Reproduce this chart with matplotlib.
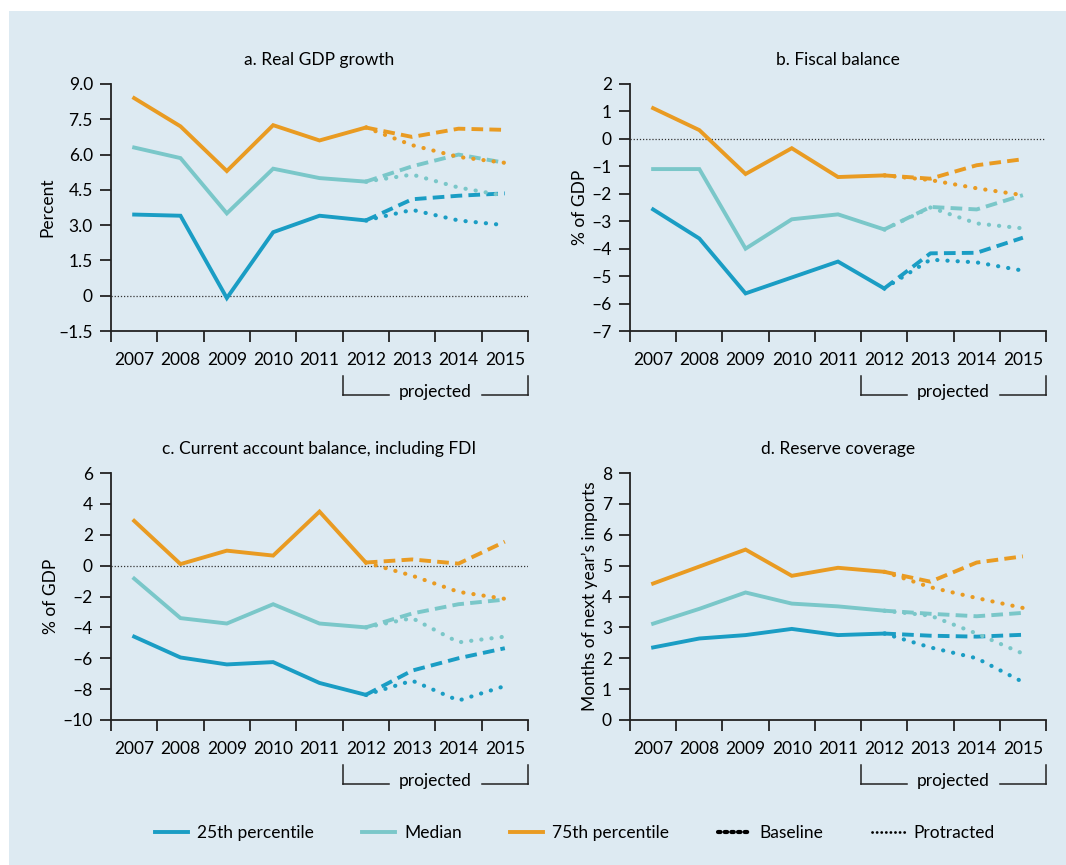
import matplotlib
matplotlib.use("Agg")
import matplotlib.pyplot as plt
from matplotlib.patches import Rectangle
from matplotlib.lines import Line2D
from matplotlib.transforms import blended_transform_factory

plt.rcParams['font.family'] = ['Lato', 'DejaVu Sans']

years = ["2007", "2008", "2009", "2010", "2011", "2012", "2013", "2014", "2015"]
hist_idx = [0, 1, 2, 3, 4, 5]
proj_idx = [5, 6, 7, 8]

# Panel a: Real GDP growth (percent)
gdp_p25 = [3.45, 3.4, -0.1, 2.7, 3.4, 3.2]
gdp_med = [6.3, 5.85, 3.5, 5.4, 5.0, 4.85]
gdp_p75 = [8.4, 7.2, 5.3, 7.25, 6.6, 7.15]
gdp_p25_base = [3.2, 4.1, 4.25, 4.35]
gdp_med_base = [4.85, 5.5, 6.0, 5.65]
gdp_p75_base = [7.15, 6.75, 7.1, 7.05]
gdp_p25_prot = [3.2, 3.65, 3.2, 3.0]
gdp_med_prot = [4.85, 5.15, 4.6, 4.25]
gdp_p75_prot = [7.15, 6.4, 5.9, 5.65]

# Panel b: Fiscal balance (% of GDP)
fis_p25 = [-2.57, -3.63, -5.63, -5.05, -4.47, -5.45]
fis_med = [-1.1, -1.1, -4.0, -2.93, -2.75, -3.3]
fis_p75 = [1.12, 0.32, -1.28, -0.34, -1.39, -1.33]
fis_p25_base = [-5.45, -4.17, -4.15, -3.6]
fis_med_base = [-3.3, -2.48, -2.57, -2.05]
fis_p75_base = [-1.33, -1.45, -0.96, -0.74]
fis_p25_prot = [-5.45, -4.4, -4.5, -4.8]
fis_med_prot = [-3.3, -2.5, -3.08, -3.26]
fis_p75_prot = [-1.33, -1.5, -1.8, -2.05]

# Panel c: Current account balance, including FDI (% of GDP)
ca_p25 = [-4.6, -5.95, -6.4, -6.25, -7.6, -8.37]
ca_med = [-0.84, -3.4, -3.75, -2.5, -3.75, -4.0]
ca_p75 = [2.9, 0.1, 0.97, 0.65, 3.5, 0.2]
ca_p25_base = [-8.37, -6.8, -6.0, -5.35]
ca_med_base = [-4.0, -3.1, -2.5, -2.2]
ca_p75_base = [0.2, 0.4, 0.13, 1.55]
ca_p25_prot = [-8.37, -7.45, -8.74, -7.8]
ca_med_prot = [-4.0, -3.4, -4.97, -4.6]
ca_p75_prot = [0.2, -0.65, -1.7, -2.15]

# Panel d: Reserve coverage (months of next year's imports)
res_p25 = [2.35, 2.64, 2.75, 2.95, 2.75, 2.8]
res_med = [3.12, 3.6, 4.13, 3.77, 3.68, 3.54]
res_p75 = [4.42, 4.97, 5.52, 4.67, 4.93, 4.8]
res_p25_base = [2.8, 2.73, 2.7, 2.76]
res_med_base = [3.54, 3.44, 3.36, 3.47]
res_p75_base = [4.8, 4.48, 5.1, 5.3]
res_p25_prot = [2.8, 2.35, 2.0, 1.23]
res_med_prot = [3.54, 3.38, 2.8, 2.15]
res_p75_prot = [4.8, 4.3, 3.95, 3.63]

C25 = '#1a9dc4'
CMED = '#7ac7c9'
C75 = '#e99b22'
BG = '#ddeaf2'

panels = [
    dict(title="a. Real GDP growth", ylabel="Percent", ylim=(-1.5, 9.0),
         yticks=[-1.5, 0, 1.5, 3.0, 4.5, 6.0, 7.5, 9.0],
         yticklabels=["\u20131.5", "0", "1.5", "3.0", "4.5", "6.0", "7.5", "9.0"],
         zero=True,
         hist=[gdp_p25, gdp_med, gdp_p75], base=[gdp_p25_base, gdp_med_base, gdp_p75_base],
         prot=[gdp_p25_prot, gdp_med_prot, gdp_p75_prot]),
    dict(title="b. Fiscal balance", ylabel="% of GDP", ylim=(-7, 2),
         yticks=list(range(-7, 3)),
         yticklabels=[("\u2013%d" % -v) if v < 0 else str(v) for v in range(-7, 3)],
         zero=True,
         hist=[fis_p25, fis_med, fis_p75], base=[fis_p25_base, fis_med_base, fis_p75_base],
         prot=[fis_p25_prot, fis_med_prot, fis_p75_prot]),
    dict(title="c. Current account balance, including FDI", ylabel="% of GDP", ylim=(-10, 6),
         yticks=list(range(-10, 7, 2)),
         yticklabels=[("\u2013%d" % -v) if v < 0 else str(v) for v in range(-10, 7, 2)],
         zero=True,
         hist=[ca_p25, ca_med, ca_p75], base=[ca_p25_base, ca_med_base, ca_p75_base],
         prot=[ca_p25_prot, ca_med_prot, ca_p75_prot]),
    dict(title="d. Reserve coverage", ylabel="Months of next year\u2019s imports", ylim=(0, 8),
         yticks=list(range(0, 9)),
         yticklabels=[str(v) for v in range(0, 9)],
         zero=False,
         hist=[res_p25, res_med, res_p75], base=[res_p25_base, res_med_base, res_p75_base],
         prot=[res_p25_prot, res_med_prot, res_p75_prot]),
]

W, H = 1066, 865
fig = plt.figure(figsize=(W / 100, H / 100), dpi=100)
fig.patch.set_facecolor('white')
bg = Rectangle((9 / W, 0), 1 - 9 / W, 1 - 11 / H, transform=fig.transFigure,
               facecolor=BG, edgecolor='none', zorder=-10)
fig.add_artist(bg)

positions = [
    (111, 84, 528, 331),
    (630, 84, 1046, 331),
    (111, 473, 528, 720),
    (630, 473, 1046, 720),
]

FS = 12.5
colors = [C25, CMED, C75]
DASH = (0, (3.0, 1.6))
DOT = (0, (0.05, 2.4))

for p, (x0, y0, x1, y1) in zip(panels, positions):
    ax = fig.add_axes([x0 / W, 1 - y1 / H, (x1 - x0) / W, (y1 - y0) / H])
    ax.set_zorder(1)
    ax.set_facecolor('none')
    for s in ['top', 'right']:
        ax.spines[s].set_visible(False)
    for s in ['left', 'bottom']:
        ax.spines[s].set_linewidth(1.3)
        ax.spines[s].set_color('#222222')
    ax.set_xlim(-0.5, 8.5)
    ax.set_ylim(*p['ylim'])
    ax.set_xticks([i - 0.5 for i in range(10)])
    ax.set_xticklabels([])
    ax.set_xticks(range(9), minor=True)
    ax.set_xticklabels(years, minor=True, fontsize=FS)
    ax.tick_params(axis='x', which='major', direction='out', length=8, width=1.3, color='#222222')
    ax.tick_params(axis='x', which='minor', length=0, pad=15)
    ax.set_yticks(p['yticks'])
    ax.set_yticklabels(p['yticklabels'], fontsize=FS)
    ax.tick_params(axis='y', direction='out', length=8, width=1.3, color='#222222', pad=5)
    ax.set_title(p['title'], fontsize=FS, pad=14)
    ax.set_ylabel(p['ylabel'], fontsize=FS, labelpad=2.5)
    if p['zero']:
        ax.axhline(0, color='#333333', lw=0.9, ls=(0, (1, 1.5)), zorder=1)
    for c, h, b, pr in zip(colors, p['hist'], p['base'], p['prot']):
        ax.plot(hist_idx, h, color=c, lw=2.8, solid_joinstyle='miter', zorder=3)
        ax.plot(proj_idx, b, color=c, lw=2.8, ls=DASH, dash_capstyle='butt', zorder=3)
        ax.plot(proj_idx, pr, color=c, lw=3.0, ls=DOT, dash_capstyle='round', zorder=3)
    # projected bracket
    tr = blended_transform_factory(ax.transData, ax.transAxes)
    yt = -(376 - 331) / 247
    yb = -(395 - 331) / 247
    kw = dict(transform=tr, color='#222222', lw=1.1, clip_on=False)
    ax.add_line(Line2D([4.5, 4.5], [yt, yb], **kw))
    ax.add_line(Line2D([8.5, 8.5], [yt, yb], **kw))
    ax.add_line(Line2D([4.5, 5.5], [yb, yb], **kw))
    ax.add_line(Line2D([7.5, 8.5], [yb, yb], **kw))
    ax.text(6.5, yb + 0.012, "projected", transform=tr, ha='center', va='center', fontsize=FS)

handles = [
    Line2D([], [], color=C25, lw=2.8),
    Line2D([], [], color=CMED, lw=2.8),
    Line2D([], [], color=C75, lw=2.8),
    Line2D([], [], color='black', lw=3.0, ls=(0, (0.6, 1.0)), dash_capstyle='round'),
    Line2D([], [], color='black', lw=2.0, ls=(0, (0.05, 1.6)), dash_capstyle='round'),
]
labels = ["25th percentile", "Median", "75th percentile", "Baseline", "Protracted"]
fig.legend(handles, labels, loc='center', bbox_to_anchor=(575 / W, 1 - 833 / H), ncol=5,
           frameon=False, fontsize=FS, handlelength=1.9, handletextpad=0.5, columnspacing=2.8)

fig.savefig("out.png", dpi=100, facecolor=fig.get_facecolor())
